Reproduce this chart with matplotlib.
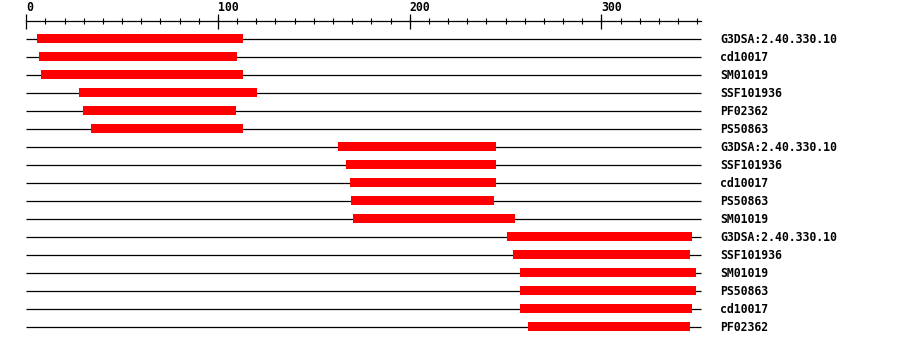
import numpy as np
import matplotlib.pyplot as plt

# protein length and domain hits (start, end), top to bottom
seq_len = 352
labels = ['G3DSA:2.40.330.10', 'cd10017', 'SM01019', 'SSF101936', 'PF02362', 'PS50863',
          'G3DSA:2.40.330.10', 'SSF101936', 'cd10017', 'PS50863', 'SM01019',
          'G3DSA:2.40.330.10', 'SSF101936', 'SM01019', 'PS50863', 'cd10017', 'PF02362']
starts = [5.6, 6.6, 7.7, 27.5, 29.6, 33.8,
          162.6, 166.8, 168.8, 169.4, 170.4,
          250.8, 253.9, 257.5, 257.5, 257.5, 261.7]
ends = [113, 110, 113, 120.3, 109.4, 113,
        245, 245, 245, 243.9, 254.9,
        347.3, 346.2, 349.3, 349.3, 347.3, 346.2]
major_ticks = [0, 100, 200, 300]
minor_ticks = np.arange(10, 351, 10)

fig = plt.figure(figsize=(9, 3.46), dpi=100)
ax = fig.add_axes([0, 0, 1, 1])
ax.set_xlim(-13.72, 455.8)
ax.set_ylim(17.056, -2.1667)
ax.axis('off')

rows = np.arange(len(labels))
font = dict(family='DejaVu Sans Mono', weight='bold', size=8.3)

# ruler
ax.plot([0, seq_len], [-0.983, -0.983], color='black', lw=0.9)
ax.vlines(major_ticks, -1.389, -0.572, color='black', lw=0.9)
ax.vlines(minor_ticks, -1.15, -0.817, color='black', lw=0.8)
for t in major_ticks:
    ax.text(t, -1.75, str(t), ha='left', va='center', **font)

# tracks
ax.hlines(rows, 0, seq_len, color='black', lw=0.9)
ax.barh(rows, np.array(ends) - np.array(starts), left=starts, height=0.5,
        color='red', zorder=3)
for r, lab in zip(rows, labels):
    ax.text(seq_len + 10, r + 0.03, lab, ha='left', va='center', **font)

plt.savefig('out.png', dpi=100)
